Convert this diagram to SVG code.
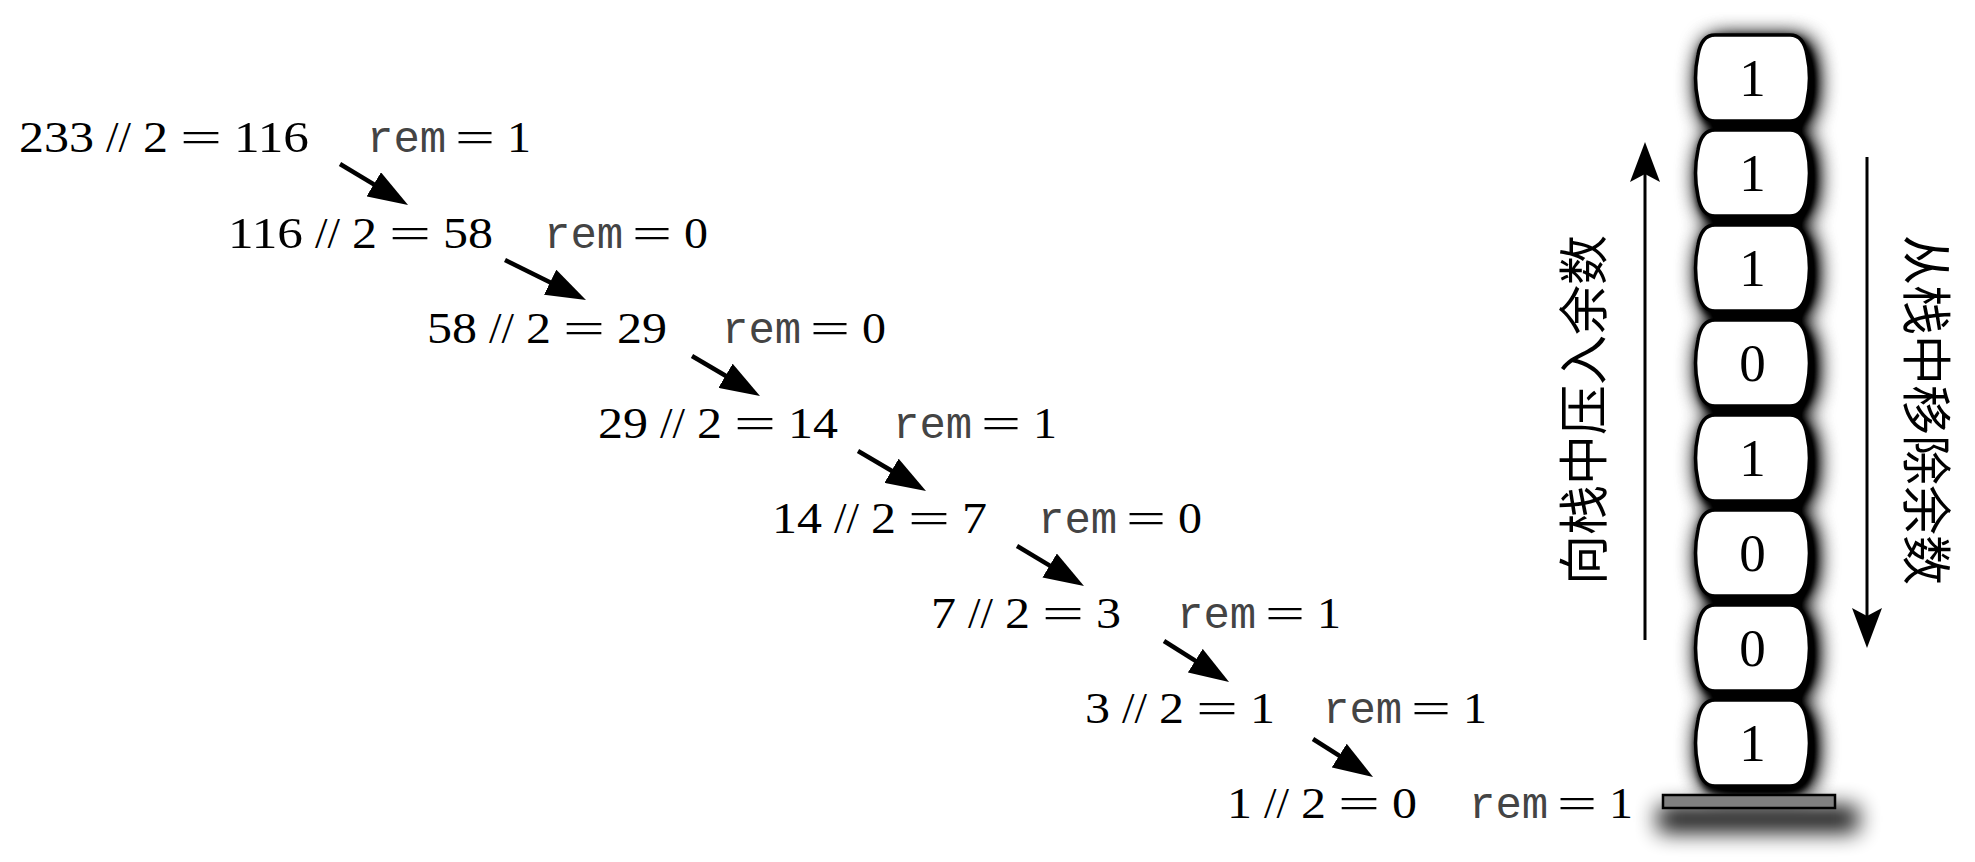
<svg xmlns="http://www.w3.org/2000/svg" xmlns:xlink="http://www.w3.org/1999/xlink" width="1975" height="862" viewBox="0 0 1975 862">
<style>
.expr{font-family:"Liberation Serif","Times New Roman",serif;font-size:45px;fill:#000}
.mono{font-family:"Liberation Mono","Courier New",monospace;font-size:44px;fill:#444}
.num{font-family:"Liberation Serif","Times New Roman",serif;font-size:53px;fill:#000;text-anchor:middle}
.cjk{font-family:"Liberation Serif","Noto Sans CJK SC",sans-serif;font-size:50px;fill:#000;text-anchor:middle;dominant-baseline:central}
.box{fill:#fff;stroke:#000;stroke-width:3.5}
.diag{stroke:#000;stroke-width:4.5;fill:none;marker-end:url(#head)}
.vert{stroke:#000;stroke-width:3;fill:none;marker-end:url(#vhead)}
</style>
<defs>
<path id="barrel" d="M20,0 H95 C105,0 110,8 112,20 C115,34 115,52 112,66 C110,78 105,86 95,86 H20 C10,86 5,78 3,66 C0,52 0,34 3,20 C5,8 10,0 20,0 Z"/>
<marker id="head" markerUnits="userSpaceOnUse" markerWidth="40" markerHeight="28" viewBox="0 0 40 28" refX="6" refY="14" orient="auto">
<path d="M0,0 L40,14 L0,28 Z" fill="#000"/>
</marker>
<marker id="vhead" markerUnits="userSpaceOnUse" markerWidth="40" markerHeight="30" viewBox="0 0 40 30" refX="8" refY="15" orient="auto">
<path d="M0,0 L40,15 L0,30 L8,15 Z" fill="#000"/>
</marker>
<filter id="dropshadow" x="-60%" y="-10%" width="220%" height="120%">
<feGaussianBlur in="SourceAlpha" stdDeviation="3" result="b1"/>
<feOffset in="b1" dx="2" dy="4" result="o1"/>
<feGaussianBlur in="SourceAlpha" stdDeviation="11" result="b2"/>
<feOffset in="b2" dx="5" dy="5" result="o2"/>
<feComponentTransfer in="o2" result="o3"><feFuncA type="linear" slope="1.8"/></feComponentTransfer>
<feMerge><feMergeNode in="o3"/><feMergeNode in="o1"/><feMergeNode in="SourceGraphic"/></feMerge>
</filter>
<filter id="blur11" x="-50%" y="-300%" width="200%" height="700%">
<feGaussianBlur stdDeviation="11"/>
</filter>
</defs>

<g id="row-1">
<text class="expr" y="152"><tspan x="19" textLength="75" lengthAdjust="spacingAndGlyphs">233</tspan> <tspan x="106" textLength="25" lengthAdjust="spacingAndGlyphs">//</tspan> <tspan x="143" textLength="25" lengthAdjust="spacingAndGlyphs">2</tspan> <tspan x="180" textLength="42" lengthAdjust="spacingAndGlyphs">=</tspan> <tspan x="234" textLength="75" lengthAdjust="spacingAndGlyphs">116</tspan></text>
<text y="152"><tspan class="mono" x="367">rem</tspan> <tspan class="expr" x="455" textLength="40" lengthAdjust="spacingAndGlyphs">=</tspan> <tspan class="expr" x="507" textLength="24" lengthAdjust="spacingAndGlyphs">1</tspan></text>
</g>
<g id="row-2">
<text class="expr" y="248"><tspan x="228" textLength="75" lengthAdjust="spacingAndGlyphs">116</tspan> <tspan x="315" textLength="25" lengthAdjust="spacingAndGlyphs">//</tspan> <tspan x="352" textLength="25" lengthAdjust="spacingAndGlyphs">2</tspan> <tspan x="389" textLength="42" lengthAdjust="spacingAndGlyphs">=</tspan> <tspan x="443" textLength="50" lengthAdjust="spacingAndGlyphs">58</tspan></text>
<text y="248"><tspan class="mono" x="544">rem</tspan> <tspan class="expr" x="632" textLength="40" lengthAdjust="spacingAndGlyphs">=</tspan> <tspan class="expr" x="684" textLength="24" lengthAdjust="spacingAndGlyphs">0</tspan></text>
</g>
<g id="row-3">
<text class="expr" y="343"><tspan x="427" textLength="50" lengthAdjust="spacingAndGlyphs">58</tspan> <tspan x="489" textLength="25" lengthAdjust="spacingAndGlyphs">//</tspan> <tspan x="526" textLength="25" lengthAdjust="spacingAndGlyphs">2</tspan> <tspan x="563" textLength="42" lengthAdjust="spacingAndGlyphs">=</tspan> <tspan x="617" textLength="50" lengthAdjust="spacingAndGlyphs">29</tspan></text>
<text y="343"><tspan class="mono" x="722">rem</tspan> <tspan class="expr" x="810" textLength="40" lengthAdjust="spacingAndGlyphs">=</tspan> <tspan class="expr" x="862" textLength="24" lengthAdjust="spacingAndGlyphs">0</tspan></text>
</g>
<g id="row-4">
<text class="expr" y="438"><tspan x="598" textLength="50" lengthAdjust="spacingAndGlyphs">29</tspan> <tspan x="660" textLength="25" lengthAdjust="spacingAndGlyphs">//</tspan> <tspan x="697" textLength="25" lengthAdjust="spacingAndGlyphs">2</tspan> <tspan x="734" textLength="42" lengthAdjust="spacingAndGlyphs">=</tspan> <tspan x="788" textLength="50" lengthAdjust="spacingAndGlyphs">14</tspan></text>
<text y="438"><tspan class="mono" x="893">rem</tspan> <tspan class="expr" x="981" textLength="40" lengthAdjust="spacingAndGlyphs">=</tspan> <tspan class="expr" x="1033" textLength="24" lengthAdjust="spacingAndGlyphs">1</tspan></text>
</g>
<g id="row-5">
<text class="expr" y="533"><tspan x="772" textLength="50" lengthAdjust="spacingAndGlyphs">14</tspan> <tspan x="834" textLength="25" lengthAdjust="spacingAndGlyphs">//</tspan> <tspan x="871" textLength="25" lengthAdjust="spacingAndGlyphs">2</tspan> <tspan x="908" textLength="42" lengthAdjust="spacingAndGlyphs">=</tspan> <tspan x="962" textLength="25" lengthAdjust="spacingAndGlyphs">7</tspan></text>
<text y="533"><tspan class="mono" x="1038">rem</tspan> <tspan class="expr" x="1126" textLength="40" lengthAdjust="spacingAndGlyphs">=</tspan> <tspan class="expr" x="1178" textLength="24" lengthAdjust="spacingAndGlyphs">0</tspan></text>
</g>
<g id="row-6">
<text class="expr" y="628"><tspan x="931" textLength="25" lengthAdjust="spacingAndGlyphs">7</tspan> <tspan x="968" textLength="25" lengthAdjust="spacingAndGlyphs">//</tspan> <tspan x="1005" textLength="25" lengthAdjust="spacingAndGlyphs">2</tspan> <tspan x="1042" textLength="42" lengthAdjust="spacingAndGlyphs">=</tspan> <tspan x="1096" textLength="25" lengthAdjust="spacingAndGlyphs">3</tspan></text>
<text y="628"><tspan class="mono" x="1177">rem</tspan> <tspan class="expr" x="1265" textLength="40" lengthAdjust="spacingAndGlyphs">=</tspan> <tspan class="expr" x="1317" textLength="24" lengthAdjust="spacingAndGlyphs">1</tspan></text>
</g>
<g id="row-7">
<text class="expr" y="723"><tspan x="1085" textLength="25" lengthAdjust="spacingAndGlyphs">3</tspan> <tspan x="1122" textLength="25" lengthAdjust="spacingAndGlyphs">//</tspan> <tspan x="1159" textLength="25" lengthAdjust="spacingAndGlyphs">2</tspan> <tspan x="1196" textLength="42" lengthAdjust="spacingAndGlyphs">=</tspan> <tspan x="1250" textLength="25" lengthAdjust="spacingAndGlyphs">1</tspan></text>
<text y="723"><tspan class="mono" x="1323">rem</tspan> <tspan class="expr" x="1411" textLength="40" lengthAdjust="spacingAndGlyphs">=</tspan> <tspan class="expr" x="1463" textLength="24" lengthAdjust="spacingAndGlyphs">1</tspan></text>
</g>
<g id="row-8">
<text class="expr" y="818"><tspan x="1227" textLength="25" lengthAdjust="spacingAndGlyphs">1</tspan> <tspan x="1264" textLength="25" lengthAdjust="spacingAndGlyphs">//</tspan> <tspan x="1301" textLength="25" lengthAdjust="spacingAndGlyphs">2</tspan> <tspan x="1338" textLength="42" lengthAdjust="spacingAndGlyphs">=</tspan> <tspan x="1392" textLength="25" lengthAdjust="spacingAndGlyphs">0</tspan></text>
<text y="818"><tspan class="mono" x="1469">rem</tspan> <tspan class="expr" x="1557" textLength="40" lengthAdjust="spacingAndGlyphs">=</tspan> <tspan class="expr" x="1609" textLength="24" lengthAdjust="spacingAndGlyphs">1</tspan></text>
</g>

<g id="connectors">
<line class="diag" x1="340" y1="164" x2="378.9" y2="187.4"/>
<line class="diag" x1="505" y1="260" x2="555.5" y2="284.9"/>
<line class="diag" x1="692" y1="356" x2="730.7" y2="378.8"/>
<line class="diag" x1="858" y1="451" x2="896.7" y2="473.8"/>
<line class="diag" x1="1017" y1="546" x2="1054.8" y2="568.6"/>
<line class="diag" x1="1164" y1="641" x2="1200.3" y2="663.9"/>
<line class="diag" x1="1313" y1="739" x2="1344.3" y2="758.8"/>
</g>

<g id="push-label">
<line class="vert" x1="1645" y1="640" x2="1645" y2="174"/>
<text class="cjk" transform="translate(1585,410) rotate(-90)">向栈中压入余数</text>
</g>
<g id="pop-label">
<line class="vert" x1="1867" y1="157" x2="1867" y2="616"/>
<text class="cjk" transform="translate(1925,410) rotate(90)">从栈中移除余数</text>
</g>

<g id="stack-base">
<rect x="1658" y="806" width="200" height="26" fill="#000" opacity="0.95" filter="url(#blur11)"/>
</g>
<g id="stack" filter="url(#dropshadow)">
<g id="box-1"><use xlink:href="#barrel" class="box" x="1695" y="35"/><text class="num" x="1752.5" y="96">1</text></g>
<g id="box-2"><use xlink:href="#barrel" class="box" x="1695" y="130"/><text class="num" x="1752.5" y="191">1</text></g>
<g id="box-3"><use xlink:href="#barrel" class="box" x="1695" y="225"/><text class="num" x="1752.5" y="286">1</text></g>
<g id="box-4"><use xlink:href="#barrel" class="box" x="1695" y="320"/><text class="num" x="1752.5" y="381">0</text></g>
<g id="box-5"><use xlink:href="#barrel" class="box" x="1695" y="415"/><text class="num" x="1752.5" y="476">1</text></g>
<g id="box-6"><use xlink:href="#barrel" class="box" x="1695" y="510"/><text class="num" x="1752.5" y="571">0</text></g>
<g id="box-7"><use xlink:href="#barrel" class="box" x="1695" y="605"/><text class="num" x="1752.5" y="666">0</text></g>
<g id="box-8"><use xlink:href="#barrel" class="box" x="1695" y="700"/><text class="num" x="1752.5" y="761">1</text></g>
</g>
<g id="stack-plate">
<rect x="1663" y="795" width="172" height="13" fill="#808080" stroke="#000" stroke-width="2.5"/>
</g>
</svg>
